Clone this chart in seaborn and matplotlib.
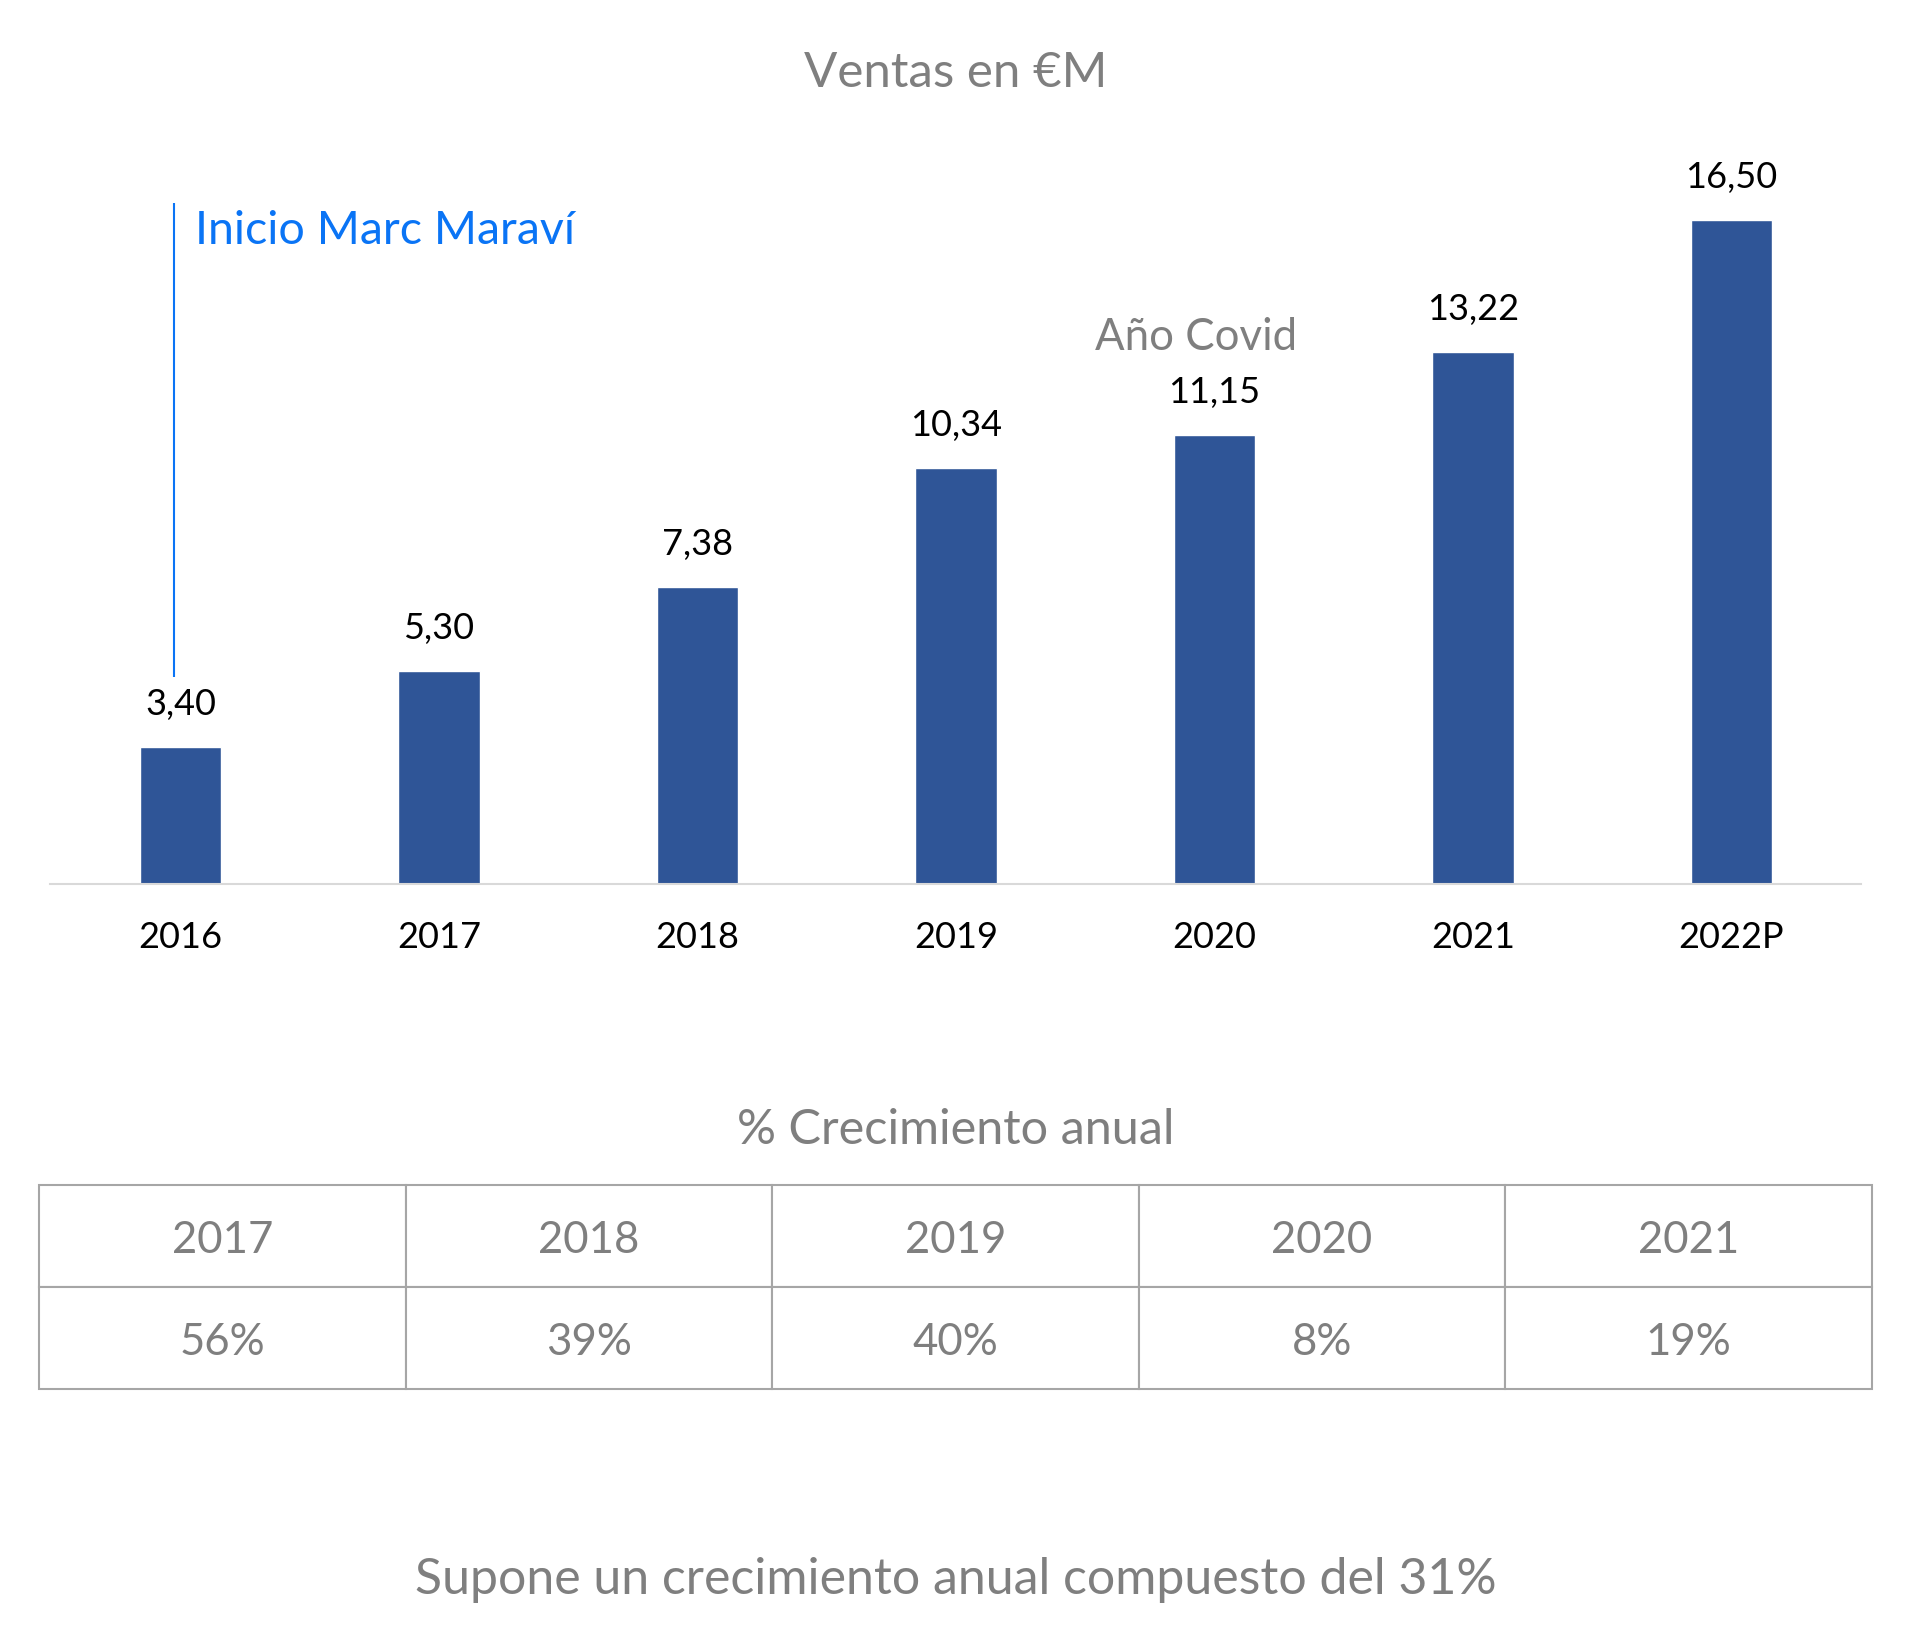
import matplotlib
matplotlib.use('Agg')
import matplotlib.pyplot as plt
import pandas as pd
import seaborn as sns

YEARS = ['2016', '2017', '2018', '2019', '2020', '2021', '2022P']
SALES = [3.40, 5.30, 7.38, 10.34, 11.15, 13.22, 16.50]
GROWTH_YEARS = ['2017', '2018', '2019', '2020', '2021']
GROWTH_PCT = ['56%', '39%', '40%', '8%', '19%']

BAR_COLOR = '#2F5597'
GRAY = '#7F7F7F'
BLUE = '#0A74F5'
W, H = 1912, 1642


def fmt(v):
    return f'{v:.2f}'.replace('.', ',')


def main():
    sns.set_style('white')
    plt.rcParams['font.family'] = ['Lato', 'DejaVu Sans']

    fig = plt.figure(figsize=(W / 100, H / 100), dpi=100)
    fig.patch.set_facecolor('white')

    # bar chart area, pixel based so bars land where the reference has them
    x0, x1 = -0.505, 6.50
    step = 258.5
    y_top = 18.5
    unit = 40.24
    left_px, base_px = 50, 884
    ax = fig.add_axes([left_px / W, 1 - base_px / H, (x1 - x0) * step / W, y_top * unit / H])

    df = pd.DataFrame({'year': YEARS, 'sales': SALES})
    sns.barplot(data=df, x='year', y='sales', color=BAR_COLOR, saturation=1, width=0.314, ax=ax)
    ax.set_xlim(x0, x1)
    ax.set_ylim(0, y_top)
    ax.set_xlabel('')
    ax.set_ylabel('')
    ax.set_yticks([])
    for side in ['top', 'left', 'right']:
        ax.spines[side].set_visible(False)
    ax.spines['bottom'].set_color('#D9D9D9')
    ax.spines['bottom'].set_linewidth(1.5)
    ax.tick_params(axis='x', length=0, pad=27, labelsize=26, labelcolor='black')

    for i, v in enumerate(SALES):
        ax.annotate(fmt(v), (i, v), xytext=(0, 23), textcoords='offset points',
                    ha='center', va='baseline', fontsize=26, color='black')

    # annotations
    ax.vlines(-0.025, 5.14, 16.92, color=BLUE, linewidth=1.5)
    ax.text(0.055, 15.90, 'Inicio Marc Maraví', color=BLUE, fontsize=33.5, ha='left', va='baseline')
    ax.text(3.93, 13.27, 'Año Covid', color=GRAY, fontsize=31.5, ha='center', va='baseline')

    fig.text(0.5, 1 - 87 / H, 'Ventas en €M', color=GRAY, fontsize=35.5, ha='center', va='baseline')
    fig.text(0.5, 1 - 1144 / H, '% Crecimiento anual', color=GRAY, fontsize=35, ha='center', va='baseline')
    fig.text(0.5, 1 - 1594 / H, 'Supone un crecimiento anual compuesto del 31%', color=GRAY,
             fontsize=36, ha='center', va='baseline')

    # growth table
    tx0, tx1, ty0, ty1 = 39, 1872, 1185, 1389
    tax = fig.add_axes([tx0 / W, 1 - ty1 / H, (tx1 - tx0) / W, (ty1 - ty0) / H])
    tax.axis('off')
    table = tax.table(cellText=[GROWTH_YEARS, GROWTH_PCT], cellLoc='center', bbox=[0, 0, 1, 1])
    table.auto_set_font_size(False)
    for cell in table.get_celld().values():
        cell.set_edgecolor('#A6A6A6')
        cell.set_linewidth(1.5)
        cell.get_text().set_fontsize(31.5)
        cell.get_text().set_color(GRAY)
        cell.get_text().set_va('center_baseline')

    fig.savefig('out.png', dpi=100, facecolor='white')


if __name__ == '__main__':
    main()
